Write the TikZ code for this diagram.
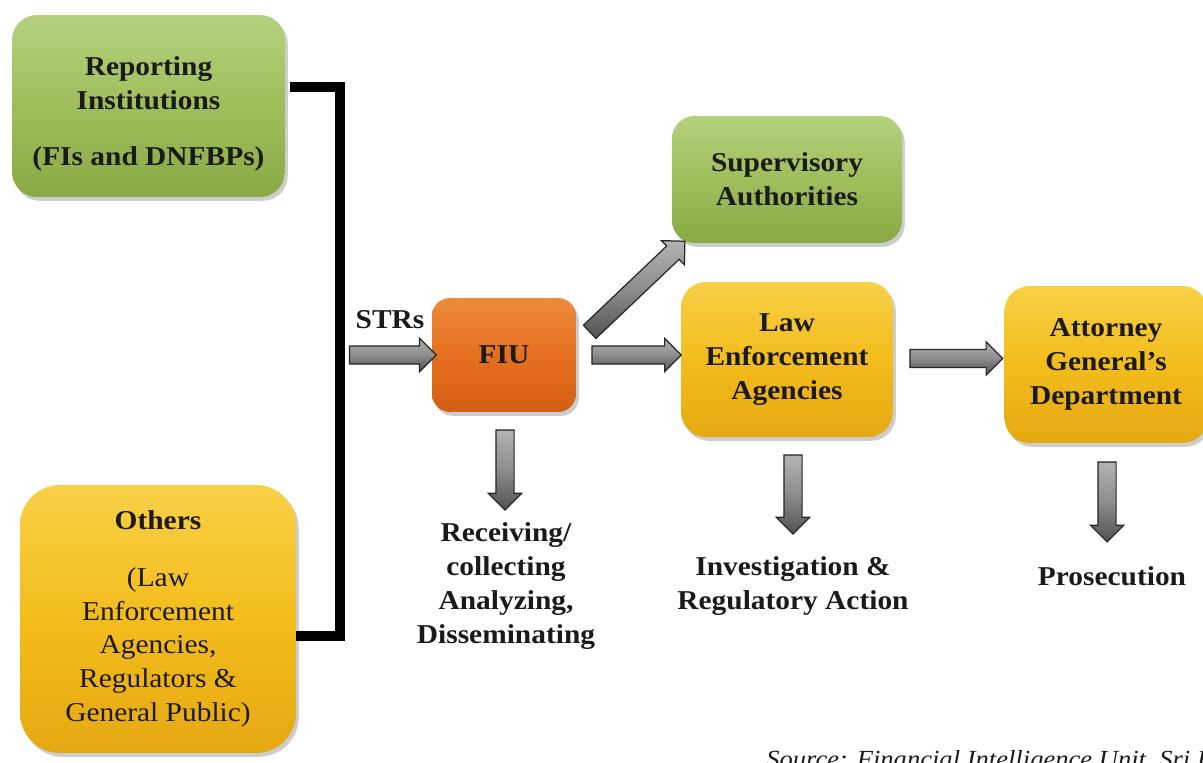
\documentclass[tikz,border=0pt]{standalone}
\usepackage{fontspec}
\setmainfont{Liberation Serif}[FakeStretch=1.08]
\usetikzlibrary{shapes.arrows,shadows,calc}

\definecolor{ink}{HTML}{1A1A1A}
\definecolor{grnTop}{HTML}{B4D27E}
\definecolor{grnMid}{HTML}{9DBE5B}
\definecolor{grnBot}{HTML}{88AA45}
\definecolor{ylwTop}{HTML}{F8D047}
\definecolor{ylwMid}{HTML}{F3BC1C}
\definecolor{ylwBot}{HTML}{E5A812}
\definecolor{orgTop}{HTML}{EE8A3C}
\definecolor{orgMid}{HTML}{E4701E}
\definecolor{orgBot}{HTML}{D45F14}

\newcommand{\txtfont}{\bfseries\fontsize{15.5}{19.3}\selectfont}
\newcommand{\nb}{\mdseries}

% gray block arrow drawn along the segment between two points
\newcommand{\blockarrow}[2]{%
  \path let \p1=#1, \p2=#2, \n1={veclen(\x2-\x1,\y2-\y1)} in
    (\p1) -- (\p2) node[midway, sloped, allow upside down, blockarr, minimum height=\n1] {};}

\tikzset{
  box/.style={draw=none, align=center, inner sep=0pt, font=\txtfont, text=ink,
    drop shadow={shadow xshift=1.6pt, shadow yshift=-2.2pt, opacity=0.28, fill=black!70}},
  greenbox/.style={box, top color=grnTop, bottom color=grnBot, middle color=grnMid},
  yellowbox/.style={box, top color=ylwTop, bottom color=ylwBot, middle color=ylwMid},
  orangebox/.style={box, top color=orgTop, bottom color=orgBot, middle color=orgMid},
  blockarr/.style={single arrow, single arrow head extend=0.15cm,
    single arrow tip angle=90, inner xsep=0pt, inner ysep=0.17cm, minimum width=0.64cm,
    draw=black!85, line width=0.7pt,
    top color=black!30, bottom color=black!68, middle color=black!45},
  bracket/.style={line width=0.2cm, draw=black, line join=miter, line cap=butt},
  lbl/.style={align=center, font=\txtfont, text=ink, inner sep=0pt},
}

\begin{document}
\begin{tikzpicture}[x=0.02cm, y=-0.02cm]
\useasboundingbox (0,0) rectangle (1203,763);

% sources of reports
\node[greenbox, rounded corners=0.5cm, minimum width=5.46cm, minimum height=3.64cm]
  (rep) at (148.5,106) {\rule{0pt}{20pt}Reporting\\Institutions\\[13pt](FIs and DNFBPs)};
\node[yellowbox, rounded corners=0.8cm, minimum width=5.52cm, minimum height=5.36cm]
  (oth) at (158,619) {Others\\[13pt]\nb(Law\\\nb Enforcement\\\nb Agencies,\\\nb Regulators \&\\\nb General Public)};

% financial intelligence unit and recipients
\node[orangebox, rounded corners=0.36cm, minimum width=2.88cm, minimum height=2.28cm]
  (fiu) at (504,355) {FIU};
\node[greenbox, rounded corners=0.45cm, minimum width=4.6cm, minimum height=2.54cm]
  (sup) at (787,179.5) {Supervisory\\Authorities};
\node[yellowbox, rounded corners=0.5cm, minimum width=4.24cm, minimum height=3.1cm]
  (lea) at (787,359.5) {Law\\Enforcement\\Agencies};
\node[yellowbox, rounded corners=0.5cm, minimum width=4.06cm, minimum height=3.14cm]
  (agd) at (1106,364.5) {Attorney\\General’s\\Department};

% outcome labels
\node[lbl] (strs) at (390,320) {STRs};
\node[lbl] (recv) at (506,586) {Receiving/\\collecting\\Analyzing,\\Disseminating};
\node[lbl] (inv) at (793,586) {Investigation \&\\Regulatory Action};
\node[lbl] (pros) at (1112,576) {Prosecution};
\node[anchor=base west, inner sep=0pt, text=ink, font=\itshape\fontsize{14}{17}\selectfont]
  (src) at (766,767) {Source: Financial Intelligence Unit, Sri Lanka};

% bracket joining the two sources
\coordinate (bt) at ([shift={(5,-19)}]rep.east);
\coordinate (bb) at ([shift={(0,17)}]oth.east);
\coordinate (junc) at (340,355);
\draw[bracket] (bt) -| (junc) |- (bb);

% flow arrows
\blockarrow{($(junc)+(5,0)$)}{(fiu.west)}
\blockarrow{($(fiu.east)+(10,-20)$)}{($(sup.south west)+(10,1)$)}
\blockarrow{($(fiu.east)+(11,0)$)}{($(lea.west |- fiu.east)+(-4,0)$)}
\blockarrow{($(lea.east)+(12,-1)$)}{($(agd.west |- lea.east)+(-6,-1)$)}
\blockarrow{($(fiu.south)+(1,13)$)}{($(fiu.south)+(1,93)$)}
\blockarrow{($(lea.south)+(6,13)$)}{($(lea.south)+(6,92)$)}
\blockarrow{($(agd.south)+(1,14)$)}{($(agd.south)+(1,94)$)}
\end{tikzpicture}
\end{document}
